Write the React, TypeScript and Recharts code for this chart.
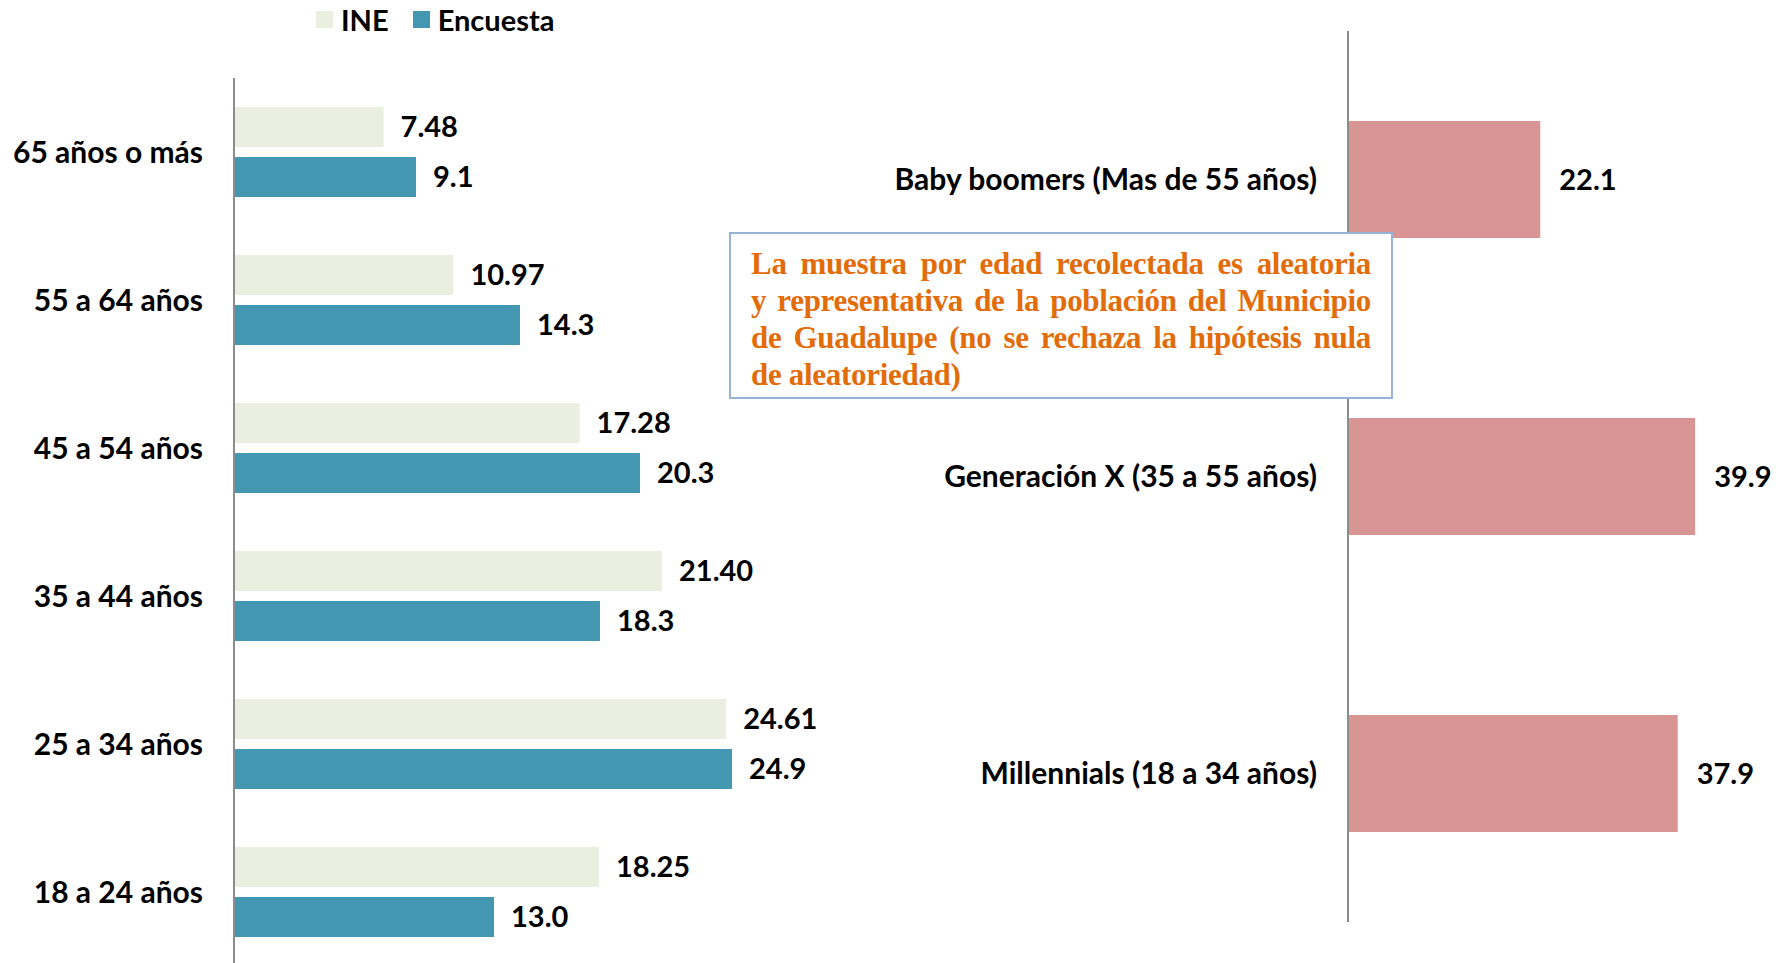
import React from 'react';
import { BarChart, Bar, XAxis, YAxis, LabelList } from 'recharts';

const ageGroups = ['65 años o más', '55 a 64 años', '45 a 54 años', '35 a 44 años', '25 a 34 años', '18 a 24 años'];
const ineValues = [7.48, 10.97, 17.28, 21.4, 24.61, 18.25];
const encuestaValues = [9.1, 14.3, 20.3, 18.3, 24.9, 13.0];

const generations = ['Baby boomers (Mas de 55 años)', 'Generación X (35 a 55 años)', 'Millennials (18 a 34 años)'];
const generationValues = [22.1, 39.9, 37.9];

const noteLines = [
  'La muestra por edad recolectada es  aleatoria',
  'y representativa de la población del Municipio',
  'de Guadalupe  (no se rechaza la hipótesis nula',
  'de aleatoriedad)',
];

const FONT = 'Lato, "Open Sans", sans-serif';
const INE_COLOR = '#EBEFDF';
const ENC_COLOR = '#4397B0';
const GEN_COLOR = '#D99594';
const AXIS_COLOR = '#8C8C8C';

const ageData = ageGroups.map((g, i) => ({ group: g, ine: ineValues[i], encuesta: encuestaValues[i] }));
const genData = generations.map((g, i) => ({ group: g, value: generationValues[i] }));

const tickStyle = { fontFamily: FONT, fontWeight: 700, fontSize: 30, fill: '#000' };
const valueStyle = { fontFamily: FONT, fontWeight: 700, fontSize: 29, fill: '#000' };

const LegendContent = () => (
  <div style={{ display: 'flex', alignItems: 'center', fontFamily: FONT, fontWeight: 700, fontSize: 29 }}>
    <span style={{ width: 17, height: 17, background: INE_COLOR, display: 'inline-block', marginRight: 8 }} />
    <span style={{ marginRight: 24 }}>INE</span>
    <span style={{ width: 17, height: 17, background: ENC_COLOR, display: 'inline-block', marginRight: 8 }} />
    <span>Encuesta</span>
  </div>
);

export default function App() {
  return (
    <div style={{ position: 'absolute', left: 0, top: 0, width: 1787, height: 963, overflow: 'hidden', background: '#fff' }}>
      <div style={{ position: 'absolute', left: 0, top: 0 }}>
        <BarChart
          layout="vertical"
          width={900}
          height={966}
          data={ageData}
          margin={{ top: 78, right: 106, bottom: 0, left: 0 }}
          barSize={40}
          barGap={10}
        >
          <XAxis type="number" domain={[0, 28]} hide />
          <YAxis
            type="category"
            dataKey="group"
            width={234}
            tickLine={false}
            tickSize={0}
            tickMargin={31}
            axisLine={{ stroke: AXIS_COLOR, strokeWidth: 2 }}
            tick={{ ...tickStyle }}
          />
          <Bar dataKey="ine" fill={INE_COLOR} isAnimationActive={false}>
            <LabelList dataKey="ine" position="right" offset={17} style={valueStyle} formatter={(v: number) => v.toFixed(2)} />
          </Bar>
          <Bar dataKey="encuesta" fill={ENC_COLOR} isAnimationActive={false}>
            <LabelList dataKey="encuesta" position="right" offset={17} style={valueStyle} formatter={(v: number) => v.toFixed(1)} />
          </Bar>
        </BarChart>
        <div style={{ position: 'absolute', left: 316, top: 2 }}>
          <LegendContent />
        </div>
      </div>
      <div style={{ position: 'absolute', left: 780, top: 0 }}>
        <BarChart
          layout="vertical"
          width={1007}
          height={963}
          data={genData}
          margin={{ top: 31, right: 4, bottom: 41, left: 0 }}
          barSize={117}
        >
          <XAxis type="number" domain={[0, 50]} hide />
          <YAxis
            type="category"
            dataKey="group"
            width={568}
            tickLine={false}
            tickSize={0}
            tickMargin={31}
            axisLine={{ stroke: AXIS_COLOR, strokeWidth: 2 }}
            tick={{ ...tickStyle }}
          />
          <Bar dataKey="value" fill={GEN_COLOR} isAnimationActive={false}>
            <LabelList dataKey="value" position="right" offset={19} style={valueStyle} formatter={(v: number) => v.toFixed(1)} />
          </Bar>
        </BarChart>
      </div>
      <div
        style={{
          position: 'absolute',
          left: 729,
          top: 232,
          width: 664,
          height: 167,
          boxSizing: 'border-box',
          border: '2px solid #95B3D7',
          background: '#fff',
          padding: '11px 20px 0 20px',
          fontFamily: '"Liberation Serif", "Times New Roman", serif',
          fontWeight: 700,
          fontSize: 31,
          lineHeight: '37px',
          color: '#E36C0A',
        }}
      >
        {noteLines.map((line, i) => (
          <div
            key={i}
            style={{
              textAlign: 'justify',
              textAlignLast: i < noteLines.length - 1 ? 'justify' : 'left',
              whiteSpace: 'nowrap',
              letterSpacing: -0.3,
            }}
          >
            {line}
          </div>
        ))}
      </div>
    </div>
  );
}
